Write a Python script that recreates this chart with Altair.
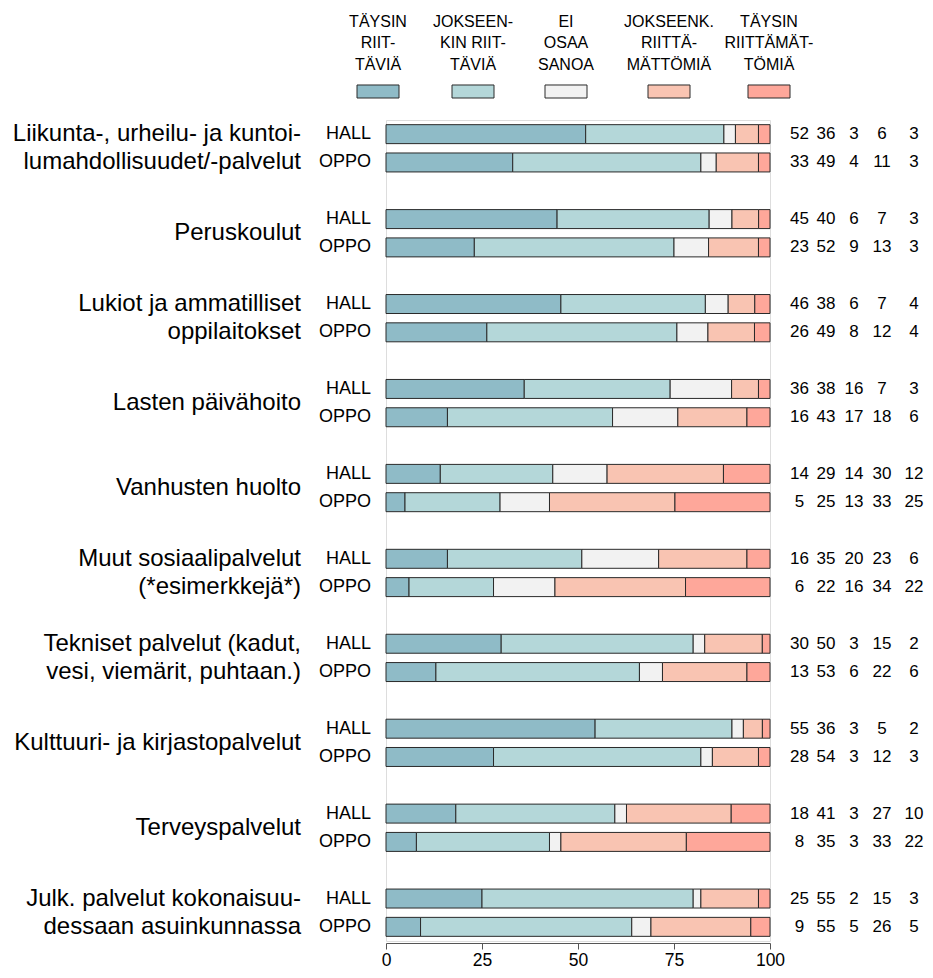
import altair as alt
import pandas as pd

# ---------------- data ----------------
categories = [
    "Liikunta-, urheilu- ja kuntoi-\nlumahdollisuudet/-palvelut",
    "Peruskoulut",
    "Lukiot ja ammatilliset\noppilaitokset",
    "Lasten päivähoito",
    "Vanhusten huolto",
    "Muut sosiaalipalvelut\n(*esimerkkejä*)",
    "Tekniset palvelut (kadut,\nvesi, viemärit, puhtaan.)",
    "Kulttuuri- ja kirjastopalvelut",
    "Terveyspalvelut",
    "Julk. palvelut kokonaisuu-\ndessaan asuinkunnassa",
]
groups = ["HALL", "OPPO"]
responses = [
    "Täysin riittäviä",
    "Jokseenkin riittäviä",
    "Ei osaa sanoa",
    "Jokseenk. riittämättömiä",
    "Täysin riittämättömiä",
]
legend_labels = [
    "TÄYSIN\nRIIT-\nTÄVIÄ",
    "JOKSEEN-\nKIN RIIT-\nTÄVIÄ",
    "EI\nOSAA\nSANOA",
    "JOKSEENK.\nRIITTÄ-\nMÄTTÖMIÄ",
    "TÄYSIN\nRIITTÄMÄT-\nTÖMIÄ",
]
colors = ["#8FBBC7", "#B4D7D9", "#F2F2F2", "#F9C4B2", "#FEA79A"]

hall = [
    [52, 36, 3, 6, 3],
    [45, 40, 6, 7, 3],
    [46, 38, 6, 7, 4],
    [36, 38, 16, 7, 3],
    [14, 29, 14, 30, 12],
    [16, 35, 20, 23, 6],
    [30, 50, 3, 15, 2],
    [55, 36, 3, 5, 2],
    [18, 41, 3, 27, 10],
    [25, 55, 2, 15, 3],
]
oppo = [
    [33, 49, 4, 11, 3],
    [23, 52, 9, 13, 3],
    [26, 49, 8, 12, 4],
    [16, 43, 17, 18, 6],
    [5, 25, 13, 33, 25],
    [6, 22, 16, 34, 22],
    [13, 53, 6, 22, 6],
    [28, 54, 3, 12, 3],
    [8, 35, 3, 33, 22],
    [9, 55, 5, 26, 5],
]
x_ticks = [0, 25, 50, 75, 100]

# ---------------- layout (pixels) ----------------
FONT = "Liberation Sans"
PLOT_LEFT = 386          # page x of value 0
W = 384                  # plot width
PLOT_TOP = 120           # page y of plot top
STEP = 28.31             # row step
NROWS = 29
H = round(NROWS * STEP)
NUM_COLS_PX = [799.5, 826, 854, 882, 914]
LEGEND_PX = [378, 473, 566, 669, 769]
CANVAS_W = 917
CANVAS_H = 962


def px_to_x(px):
    return (px - PLOT_LEFT) / W * 100


# ---------------- tables ----------------
bar_rows, num_rows, grp_rows, cat_rows = [], [], [], []
for i, cat in enumerate(categories):
    cat_rows.append({"row": 3 * i, "label": cat, "multi": "\n" in cat})
    for j, (g, vals) in enumerate(zip(groups, [hall[i], oppo[i]])):
        row = 3 * i + j
        grp_rows.append({"row": row, "group": g})
        total = sum(vals)
        cum = 0
        for k, v in enumerate(vals):
            start = cum / total * 100
            cum += v
            end = cum / total * 100
            bar_rows.append({"row": row, "resp": responses[k], "start": start, "end": end})
            num_rows.append({"row": row, "nx": px_to_x(NUM_COLS_PX[k]), "value": str(v)})

bars_df = pd.DataFrame(bar_rows)
nums_df = pd.DataFrame(num_rows)
grp_df = pd.DataFrame(grp_rows)
cat_df = pd.DataFrame(cat_rows)
leg_df = pd.DataFrame({
    "resp": responses,
    "label": legend_labels,
    "lx": [px_to_x(p) for p in LEGEND_PX],
})

yscale = alt.Scale(domain=list(range(NROWS)), paddingInner=0.33, paddingOuter=0.165)
xscale = alt.Scale(domain=[0, 100], nice=False, zero=False)
cscale = alt.Scale(domain=responses, range=colors)
Y = alt.Y("row:O", scale=yscale, axis=None)

bars = alt.Chart(bars_df).mark_bar(stroke="#2a2a2a", strokeWidth=1).encode(
    x=alt.X("start:Q", scale=xscale,
            axis=alt.Axis(values=x_ticks, title=None, grid=False, tickSize=6, offset=2,
                          labelFontSize=17.5, labelFont=FONT, labelColor="black",
                          domainColor="#555", tickColor="#555", labelPadding=2,
                          labelFlush=False, format="d")),
    x2="end:Q",
    y=Y,
    color=alt.Color("resp:N", scale=cscale, legend=None),
)

grp_text = alt.Chart(grp_df).mark_text(
    align="right", baseline="middle", font=FONT, fontSize=18, color="black"
).encode(x=alt.value(371 - PLOT_LEFT), y=Y, text="group:N")

num_text = alt.Chart(nums_df).mark_text(
    align="center", baseline="middle", font=FONT, fontSize=17, color="black"
).encode(x=alt.X("nx:Q", scale=xscale), y=Y, text="value:N")

cat_single = alt.Chart(cat_df[~cat_df["multi"]]).mark_text(
    align="right", baseline="middle", font=FONT, fontSize=24, color="black",
    dy=STEP / 2
).encode(x=alt.value(301 - PLOT_LEFT), y=Y, text="label:N")

cat_multi = alt.Chart(cat_df[cat_df["multi"]]).mark_text(
    align="right", baseline="middle", font=FONT, fontSize=24, color="black",
    lineBreak="\n", lineHeight=STEP
).encode(x=alt.value(301 - PLOT_LEFT), y=Y, text="label:N")

leg_text = alt.Chart(leg_df).mark_text(
    align="center", baseline="alphabetic", font=FONT, fontSize=16, color="black",
    lineBreak="\n", lineHeight=21.7
).encode(x=alt.X("lx:Q", scale=xscale), y=alt.value(26.7 - PLOT_TOP), text="label:N")

leg_sw = alt.Chart(leg_df).mark_point(
    shape="M-1,-0.31L1,-0.31L1,0.31L-1,0.31Z", size=42 * 42, filled=True,
    opacity=1, stroke="#2a2a2a", strokeWidth=1
).encode(
    x=alt.X("lx:Q", scale=xscale),
    y=alt.value(91.5 - PLOT_TOP),
    color=alt.Color("resp:N", scale=cscale, legend=None),
)

pad_left = PLOT_LEFT - 8
pad_top = PLOT_TOP - 8
chart = alt.layer(bars, grp_text, num_text, cat_single, cat_multi, leg_text, leg_sw).properties(
    width=W,
    height=H,
    padding={"left": pad_left, "top": pad_top,
             "right": CANVAS_W - pad_left - W, "bottom": CANVAS_H - pad_top - H},
    autosize=alt.AutoSizeParams(type="none"),
).configure_view(stroke=None).configure(font=FONT)

chart.save("out.html", embed_options={"renderer": "svg", "actions": False})
